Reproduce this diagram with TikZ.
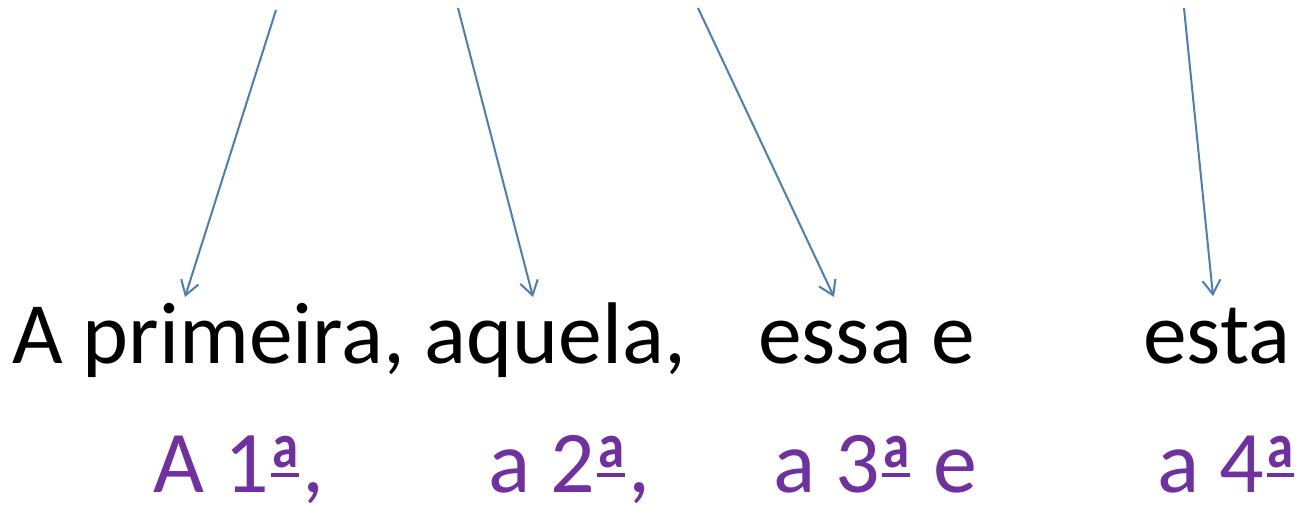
\documentclass[tikz,border=0pt]{standalone}
\usepackage{fontspec}
\usepackage{graphicx}
\setmainfont{Carlito}
\usetikzlibrary{arrows.meta}
\definecolor{arrowblue}{HTML}{4A7EBB}
\definecolor{ordpurple}{HTML}{7030A0}
\newsavebox\ordbox
\newcommand\ordfem{\leavevmode\sbox\ordbox{\scalebox{0.6}[0.72]{\bfseries a}}%
  \hbox{\kern0.03em\rlap{\rule[0.18em]{\dimexpr\wd\ordbox+0.02em\relax}{0.045em}}%
  \kern0.01em\raisebox{0.29em}{\usebox\ordbox}\kern0.05em}}
\begin{document}
\begin{tikzpicture}[x=1pt,y=1pt,
  word/.style={anchor=base west,inner sep=0pt,font=\fontsize{87.5}{95}\selectfont,text=black},
  ord/.style={anchor=base west,inner sep=0pt,font=\fontsize{88}{96}\selectfont,text=ordpurple},
  pointer/.style={draw=arrowblue,line width=2pt,-{Straight Barb[length=14pt,width=18pt,line width=2pt]}}]
\useasboundingbox (0,0) rectangle (1299,506);
% black words
\node[word] (w1) at (12,142) {A primeira, aquela,};
\node[word] (w2) at (758,142) {essa e};
\node[word] (w3) at (1143,142) {esta};
% purple ordinals
\node[ord] (o1) at (153,13) {A 1\ordfem,};
\node[ord] (o2) at (488,13) {a 2\ordfem,};
\node[ord] (o3) at (773,13) {a 3\ordfem{} e};
\node[ord] (o4) at (1157,13) {a 4\ordfem};
% arrow ends
\coordinate (s1) at (276,496);
\coordinate (e1) at (185,209);
\coordinate (s2) at (458,498);
\coordinate (e2) at (533,209);
\coordinate (s3) at (698,498);
\coordinate (e3) at (834,209);
\coordinate (s4) at (1184,498);
\coordinate (e4) at (1213,210);
\draw[pointer] (s1) -- (e1);
\draw[pointer] (s2) -- (e2);
\draw[pointer] (s3) -- (e3);
\draw[pointer] (s4) -- (e4);
\end{tikzpicture}
\end{document}
